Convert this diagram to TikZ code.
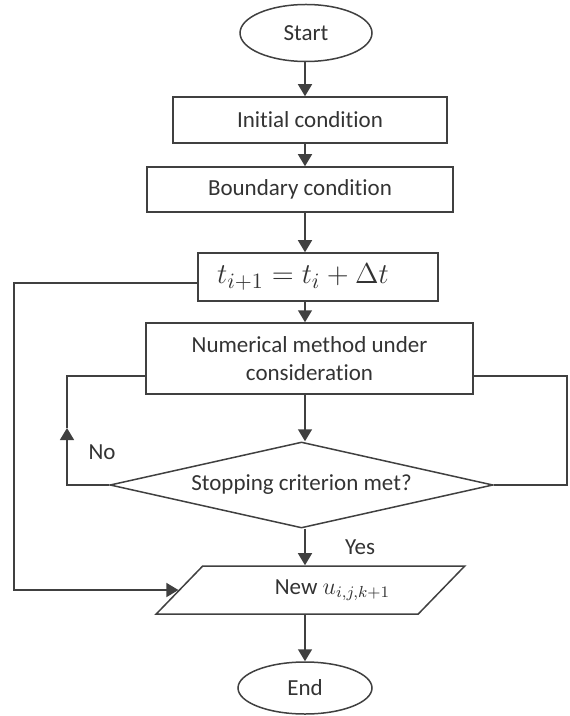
\documentclass[tikz,border=0pt]{standalone}
\usepackage{fontspec}
\setmainfont{Carlito}[Ligatures=NoCommon]
\usetikzlibrary{shapes.geometric}
\usetikzlibrary{arrows.meta}

\begin{document}
\begin{tikzpicture}[x=0.5pt, y=-0.5pt, line width=0.75pt,
  every node/.style={font=\fontsize{11.5}{14}\selectfont, text=black!80},
  box/.style={draw=black!75, rectangle, inner sep=0pt},
  term/.style={draw=black!75, ellipse, inner sep=0pt},
  arr/.style={draw=black!75, -{Triangle[length=6pt,width=7pt]}}]
\useasboundingbox (0,0) rectangle (569,716);

% blocks
\node[term, minimum width=66pt, minimum height=28.5pt] (start) at (306,33) {Start};
\node[box, minimum width=137pt, minimum height=23pt] (init) at (310,120) {Initial condition};
\node[box, minimum width=153pt, minimum height=22.5pt] (bound) at (300,189.5) {Boundary condition};
\node[box, minimum width=120pt, minimum height=24pt] (tstep) at (318,277) {\fontsize{15}{17}\selectfont $t_{i+1}=t_i+\Delta t$\hspace*{15pt}};
\node[box, minimum width=163.5pt, minimum height=35.5pt, align=center] (num) at (309.5,358.5) {Numerical method under\\consideration};
\node[draw=black!75, diamond, aspect=4.45, inner sep=0pt, minimum width=191.5pt, minimum height=43pt] (stop) at (301.5,485) {Stopping criterion met?};
\node[draw=black!75, trapezium, trapezium left angle=32, trapezium right angle=148, trapezium stretches=true, inner sep=0pt, minimum width=154.5pt, minimum height=24pt] (newu) at (310.5,590) {\hspace*{22pt}New $u_{i,j,k+1}$};
\node[term, minimum width=67pt, minimum height=26pt] (end) at (305,688) {End};
\node (no) at (102,452) {No};
\node (yes) at (360,547) {Yes};

% main axis
\coordinate (ax) at (305,0);
\draw[arr] (ax |- start.south) -- (ax |- init.north);
\draw[arr] (ax |- init.south) -- (ax |- bound.north);
\draw[arr] (ax |- bound.south) -- (ax |- tstep.north);
\draw[arr] (ax |- tstep.south) -- (ax |- num.north);
\draw[arr] (ax |- num.south) -- (ax |- stop.north);
\draw[arr] (ax |- stop.south) -- (ax |- newu.north);
\draw[arr] (ax |- newu.south) -- (ax |- end.north);

% loops
\coordinate (lTop) at (14,283);
\draw[arr] (lTop -| tstep.west) -- (lTop) |- (newu.west);
\coordinate (noTop) at (67,376);
\coordinate (noMid) at (67,428);
\draw[arr] (stop.west) -| (noMid);
\draw[draw=black!75] (noMid) -- (noTop) -- (noTop -| num.west);
\coordinate (rTop) at (567,376);
\draw[draw=black!75] (rTop -| num.east) -- (rTop) |- (stop.east);
\end{tikzpicture}
\end{document}
